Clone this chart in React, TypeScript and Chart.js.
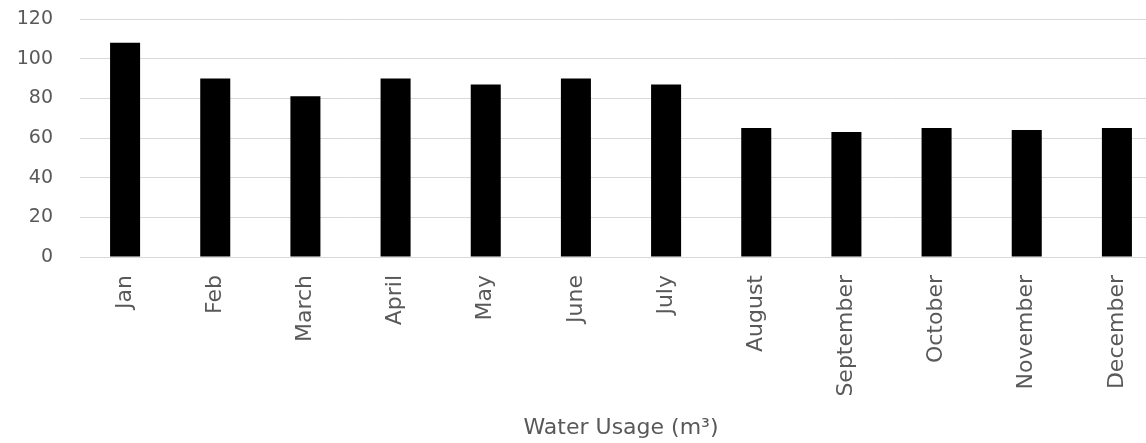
import React, { useEffect, useRef } from "react";
import { Chart, registerables } from "chart.js";

Chart.register(...registerables);

const months = ["Jan", "Feb", "March", "April", "May", "June", "July", "August", "September", "October", "November", "December"];
const waterUsage = [108, 90, 81, 90, 87, 90, 87, 65, 63, 65, 64, 65];
const axisTitle = "Water Usage (m³)";
const yMin = 0;
const yMax = 120;
const yStep = 20;

const FONT = "'DejaVu Sans', sans-serif";
const TEXT = "#595959";
const GRID = "#d9d9d9";

export default function App() {
  const ref = useRef<HTMLCanvasElement | null>(null);

  useEffect(() => {
    if (!ref.current) return;
    const chart = new Chart(ref.current, {
      type: "bar",
      data: {
        labels: months,
        datasets: [
          {
            label: axisTitle,
            data: waterUsage,
            backgroundColor: "#000000",
            borderWidth: 0,
            categoryPercentage: 1,
            barPercentage: 0.333,
          },
        ],
      },
      options: {
        responsive: false,
        animation: false,
        layout: { padding: { left: 0, right: 8, top: 19, bottom: 0 } },
        plugins: { legend: { display: false }, tooltip: { enabled: false } },
        scales: {
          x: {
            grid: { display: false },
            border: { display: true, color: GRID, width: 1 },
            ticks: {
              color: TEXT,
              font: { family: FONT, size: 22 },
              maxRotation: 90,
              minRotation: 90,
              padding: 10,
              autoSkip: false,
            },
            title: {
              display: true,
              text: axisTitle,
              color: TEXT,
              font: { family: FONT, size: 22 },
              padding: { top: 4, bottom: 2 },
            },
            afterFit: (s: any) => {
              s.height = 186;
            },
          },
          y: {
            min: yMin,
            max: yMax,
            ticks: {
              stepSize: yStep,
              color: TEXT,
              font: { family: FONT, size: 19 },
              padding: 27,
            },
            grid: { color: GRID, lineWidth: 1, drawTicks: false },
            border: { display: false },
            afterFit: (s: any) => {
              s.width = 80;
              s.paddingTop = 0;
              s.paddingBottom = 0;
            },
          },
        },
      },
    });
    return () => chart.destroy();
  }, []);

  return (
    <div style={{ position: "absolute", left: 0, top: 0, width: 1146, height: 443, overflow: "hidden", background: "#fff" }}>
      <canvas ref={ref} width={1170} height={443} style={{ width: 1170, height: 443, display: "block" }} />
    </div>
  );
}
